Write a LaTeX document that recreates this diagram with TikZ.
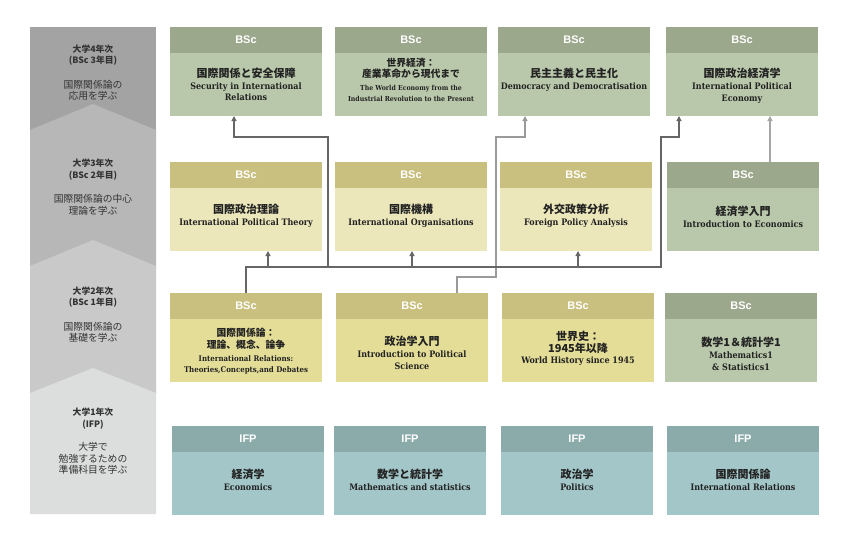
\documentclass[tikz,border=0pt]{standalone}
\usepackage{fontspec}
\usetikzlibrary{arrows.meta}
\newfontfamily\jpf{Noto Sans CJK JP}
\newfontfamily\enf{DejaVu Serif Condensed}
\newfontfamily\hdf{Liberation Sans}
\definecolor{gH}{HTML}{9BA88C}
\definecolor{gB}{HTML}{B9C8AA}
\definecolor{oH}{HTML}{C9C080}
\definecolor{yB3}{HTML}{ECE7BB}
\definecolor{yB2}{HTML}{E4DD97}
\definecolor{tH}{HTML}{8AABAA}
\definecolor{tB}{HTML}{A3C6C8}
\definecolor{bandA}{HTML}{A3A3A3}
\definecolor{bandB}{HTML}{B7B7B7}
\definecolor{bandC}{HTML}{C9C9C9}
\definecolor{bandD}{HTML}{DCDDDD}
\definecolor{txt}{HTML}{222222}
\definecolor{ltxt}{HTML}{333333}
\definecolor{dkl}{HTML}{666666}
\definecolor{ltl}{HTML}{9A9A9A}
\definecolor{ecl}{HTML}{A5A5A5}
\newcommand\J[1]{{\jpf\bfseries\fontsize{11}{12}\selectfont #1}}
\newcommand\Js[1]{{\jpf\bfseries\fontsize{9.8}{11}\selectfont #1}}
\newcommand\E[1]{{\enf\bfseries\fontsize{8.9}{11}\selectfont #1}}
\newcommand\Em[1]{{\enf\bfseries\fontsize{7.8}{10}\selectfont #1}}
\newcommand\Es[1]{{\enf\bfseries\fontsize{6.9}{10}\selectfont #1}}
\newcommand\LB[1]{{\jpf\bfseries\fontsize{8.8}{11.5}\selectfont #1}}
\newcommand\LR[1]{{\jpf\fontsize{9.8}{11.5}\selectfont #1}}
\tikzset{
  cbody/.style={minimum width=152pt, minimum height=89pt, inner sep=0, outer sep=0, draw=none},
  chead/.style={minimum width=152pt, minimum height=26pt, inner sep=0, outer sep=0, text=white, font=\hdf\bfseries\fontsize{11}{13}\selectfont},
  ctext/.style={align=center, inner sep=0, text=txt, font=\fontsize{8}{11.8}\selectfont},
  ltext/.style={align=center, inner sep=0, text=ltxt, font=\fontsize{9}{11.5}\selectfont},
  dkline/.style={draw=dkl, line width=1.4pt},
  ltline/.style={draw=ltl, line width=1.4pt},
  ecline/.style={draw=ecl, line width=1.4pt},
  tip/.style={-{Triangle[length=5pt,width=5pt]}}
}
% #1 name, #2 x, #3 y, #4 head colour, #5 body colour, #6 head text, #7 text offset, #8 body text
\newcommand\cbox[8]{%
  \node[cbody, fill=#5, anchor=north west] (#1) at (#2,#3) {};
  \node[chead, fill=#4, anchor=north west] (#1-h) at (#2,#3) {#6};
  \node[ctext] (#1-t) at ([yshift=-#7]#1-h.south) {#8};
}
\begin{document}
\begin{tikzpicture}[x=1pt,y=-1pt]
\path[use as bounding box, fill=white] (0,0) rectangle (850,538);
% left bands
\fill[bandA] (30,27) rectangle (156,131);
\fill[bandB] (30,130) -- (93,104) -- (156,130) -- (156,267) -- (30,267) -- cycle;
\fill[bandC] (30,266) -- (93,240) -- (156,266) -- (156,394) -- (30,394) -- cycle;
\fill[bandD] (30,393) -- (93,368) -- (156,393) -- (156,514) -- (30,514) -- cycle;
\node[ltext] (l4) at (93,72.5) {\LB{大学4年次}\\\LB{(BSc 3年目)}\\[13pt]\LR{国際関係論の}\\\LR{応用を学ぶ}};
\node[ltext] (l3) at (93,187) {\LB{大学3年次}\\\LB{(BSc 2年目)}\\[13pt]\LR{国際関係論の中心}\\\LR{理論を学ぶ}};
\node[ltext] (l2) at (93,314.5) {\LB{大学2年次}\\\LB{(BSc 1年目)}\\[13pt]\LR{国際関係論の}\\\LR{基礎を学ぶ}};
\node[ltext] (l1) at (93,441.5) {\LB{大学1年次}\\\LB{(IFP)}\\[12pt]\LR{大学で}\\\LR{勉強するための}\\\LR{準備科目を学ぶ}};
% year 4
\cbox{sir}{170}{27}{gH}{gB}{BSc}{31.5pt}{\J{国際関係と安全保障}\\\E{Security in International}\\\E{Relations}}
\cbox{we}{335}{27}{gH}{gB}{BSc}{26.5pt}{\Js{世界経済：}\\\Js{産業革命から現代まで}\\[1pt]\Es{The World Economy from the}\\[-1.5pt]\Es{Industrial Revolution to the Present}}
\cbox{dd}{498}{27}{gH}{gB}{BSc}{26.5pt}{\J{民主主義と民主化}\\\E{Democracy and Democratisation}}
\cbox{ipe}{666}{27}{gH}{gB}{BSc}{32.5pt}{\J{国際政治経済学}\\\E{International Political}\\\E{Economy}}
% year 3
\cbox{ipt}{170}{162}{oH}{yB3}{BSc}{28pt}{\J{国際政治理論}\\\E{International Political Theory}}
\cbox{io}{335}{162}{oH}{yB3}{BSc}{28pt}{\J{国際機構}\\\E{International Organisations}}
\cbox{fpa}{500}{162}{oH}{yB3}{BSc}{28pt}{\J{外交政策分析}\\\E{Foreign Policy Analysis}}
\cbox{ie}{667}{162}{gH}{gB}{BSc}{29pt}{\J{経済学入門}\\\E{Introduction to Economics}}
% year 2
\cbox{ir}{170}{293}{oH}{yB2}{BSc}{32pt}{\Js{国際関係論：}\\\Js{理論、概念、論争}\\[1pt]\Em{International Relations:}\\[-1pt]\Em{Theories,Concepts,and Debates}}
\cbox{ps}{336}{293}{oH}{yB2}{BSc}{34pt}{\J{政治学入門}\\\E{Introduction to Political}\\\E{Science}}
\cbox{wh}{502}{293}{oH}{yB2}{BSc}{29.5pt}{\J{世界史：}\\\J{1945年以降}\\\E{World History since 1945}}
\cbox{ms}{665}{293}{gH}{gB}{BSc}{35pt}{\J{数学1＆統計学1}\\\E{Mathematics1}\\\E{\& Statistics1}}
% year 1
\cbox{ec}{172}{426}{tH}{tB}{IFP}{28pt}{\J{経済学}\\\E{Economics}}
\cbox{mas}{334}{426}{tH}{tB}{IFP}{28pt}{\J{数学と統計学}\\\E{Mathematics and statistics}}
\cbox{pol}{501}{426}{tH}{tB}{IFP}{28pt}{\J{政治学}\\\E{Politics}}
\cbox{irl}{667}{426}{tH}{tB}{IFP}{28pt}{\J{国際関係論}\\\E{International Relations}}
% connector bends
\coordinate (b1) at (246,267);
\coordinate (b2) at (661,267);
\coordinate (b3) at (661,137);
\coordinate (b4) at (679,137);
\coordinate (t1) at (268,267);
\coordinate (t2) at (412,267);
\coordinate (t3) at (578,267);
\coordinate (s0) at (328,267);
\coordinate (s1) at (328,137);
\coordinate (s2) at (234,137);
\coordinate (p1) at (457,277);
\coordinate (p2) at (496,277);
\coordinate (p3) at (496,137);
\coordinate (p4) at (525,137);
\coordinate (e0) at (770,140);
% light connector
\draw[ltline,tip] (p1 |- ps.north) -- (p1) -- (p2) -- (p3) -- (p4) -- (p4 |- dd.south);
% dark connectors
\draw[dkline,tip] (ir.north) -- (b1) -- (b2) -- (b3) -- (b4) -- (b4 |- ipe.south);
\draw[dkline,tip] (t1) -- (t1 |- ipt.south);
\draw[dkline,tip] (t2) -- (t2 |- io.south);
\draw[dkline,tip] (t3) -- (t3 |- fpa.south);
\draw[dkline,tip] (s0) -- (s1) -- (s2) -- (s2 |- sir.south);
% economics connector
\draw[ecline,tip] (e0 |- ie.north) -- (e0 |- ipe.south);
\end{tikzpicture}
\end{document}
